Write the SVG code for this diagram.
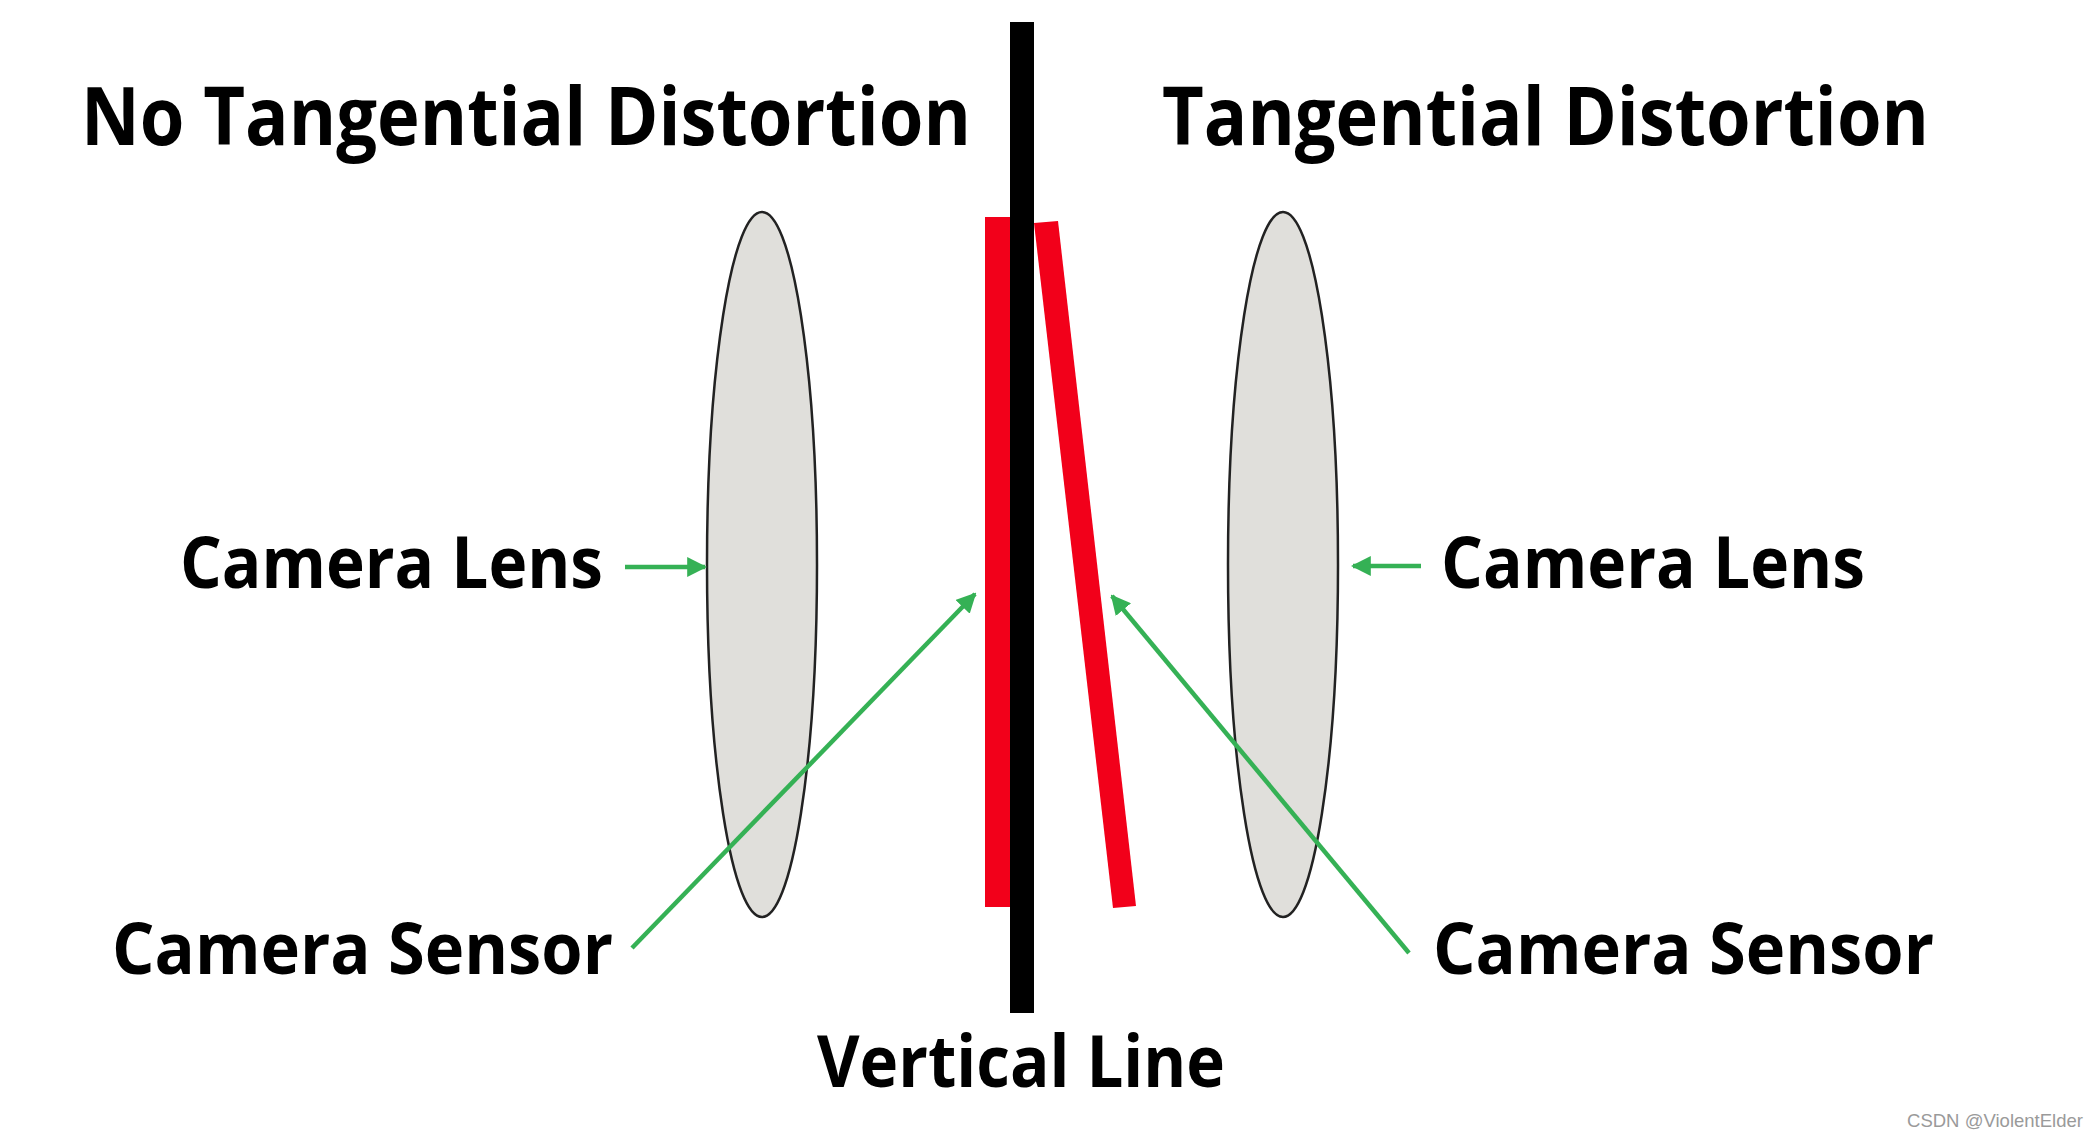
<svg xmlns="http://www.w3.org/2000/svg" width="2099" height="1138" viewBox="0 0 2099 1138">
<style>
.t{font-family:"Open Sans","Noto Sans",sans-serif;font-weight:700;fill:#000}
.title{font-size:80px}
.lbl{font-size:72px}
.lens{fill:#e0dfdb;stroke:#222;stroke-width:2.5}
.sensor{fill:#f2001a}
.conn{stroke:#35b155;stroke-width:4.5;fill:none}
.wm{font-family:"Liberation Sans",Arial,sans-serif;font-size:19px;fill:#9a9a9a}
</style>
<defs>
<marker id="ah" viewBox="0 0 10 10" refX="9" refY="5" markerWidth="4.4" markerHeight="4.4" markerUnits="strokeWidth" orient="auto">
<path d="M0,0 L10,5 L0,10 z" fill="#35b155"/>
</marker>
</defs>
<rect width="2099" height="1138" fill="#fff"/>
<g id="title-left"><text class="t title" x="81" y="145" textLength="890" lengthAdjust="spacingAndGlyphs">No Tangential Distortion</text></g>
<g id="title-right"><text class="t title" x="1162" y="145" textLength="767" lengthAdjust="spacingAndGlyphs">Tangential Distortion</text></g>
<g id="lens-left"><ellipse class="lens" cx="762" cy="564.5" rx="55" ry="352.5"/></g>
<g id="lens-right"><ellipse class="lens" cx="1283" cy="564.5" rx="55" ry="352.5"/></g>
<g id="sensor-left"><rect class="sensor" x="985" y="217" width="30" height="690"/></g>
<g id="sensor-right"><polygon class="sensor" points="1034,223 1058,221 1136,906 1113,908"/></g>
<g id="vertical-line"><rect x="1010" y="22" width="24" height="991" fill="#000"/></g>
<g id="label-lens-left"><text class="t lbl" x="180" y="588" textLength="423" lengthAdjust="spacingAndGlyphs">Camera Lens</text></g>
<g id="label-lens-right"><text class="t lbl" x="1441" y="588" textLength="424" lengthAdjust="spacingAndGlyphs">Camera Lens</text></g>
<g id="label-sensor-left"><text class="t lbl" x="112" y="974" textLength="501" lengthAdjust="spacingAndGlyphs">Camera Sensor</text></g>
<g id="label-sensor-right"><text class="t lbl" x="1433" y="974" textLength="501" lengthAdjust="spacingAndGlyphs">Camera Sensor</text></g>
<g id="label-vertical"><text class="t lbl" x="817" y="1087" textLength="408" lengthAdjust="spacingAndGlyphs">Vertical Line</text></g>
<g id="connectors">
<line class="conn" x1="625" y1="567" x2="705" y2="567" marker-end="url(#ah)"/>
<line class="conn" x1="1421" y1="566" x2="1353" y2="566" marker-end="url(#ah)"/>
<line class="conn" x1="632" y1="948" x2="975" y2="594" marker-end="url(#ah)"/>
<line class="conn" x1="1409" y1="953" x2="1112" y2="596" marker-end="url(#ah)"/>
</g>
<text class="wm" x="1907" y="1127" textLength="176" lengthAdjust="spacingAndGlyphs">CSDN @ViolentElder</text>
</svg>
